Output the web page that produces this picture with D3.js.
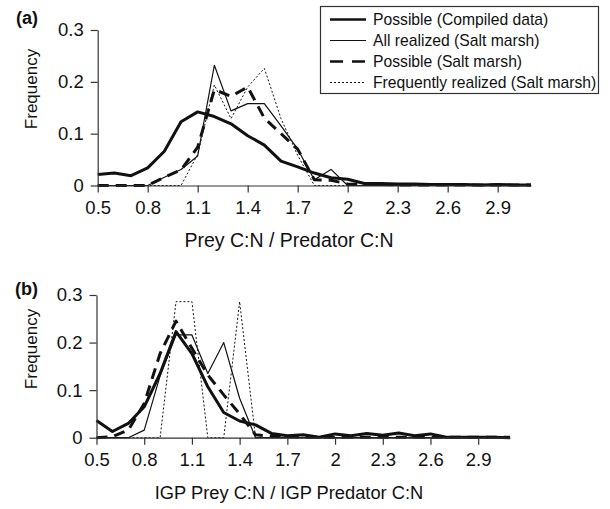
<!DOCTYPE html>
<html>
<head>
<meta charset="utf-8">
<script src="https://cdn.jsdelivr.net/npm/d3@7"></script>
<style>
  body { margin: 0; background: #fff; }
  text { font-family: "Liberation Sans", Arial, Helvetica, sans-serif; fill: #111; }
</style>
</head>
<body>
<svg id="chart" width="610" height="509"></svg>
<script>
// C:N ratio bins (same for both panels)
let ratioBins = [0.5, 0.6, 0.7, 0.8, 0.9, 1.0, 1.1, 1.2, 1.3, 1.4, 1.5, 1.6, 1.7, 1.8, 1.9,
                 2.0, 2.1, 2.2, 2.3, 2.4, 2.5, 2.6, 2.7, 2.8, 2.9, 3.0, 3.1];
let xTickValues = [0.5, 0.8, 1.1, 1.4, 1.7, 2.0, 2.3, 2.6, 2.9];
let yTickValues = [0, 0.1, 0.2, 0.3];

let seriesNames = ["Possible (Compiled data)", "All realized (Salt marsh)",
                   "Possible (Salt marsh)", "Frequently realized (Salt marsh)"];

// panel (a) prey / predator
let aCompiled = [0.021, 0.024, 0.019, 0.034, 0.066, 0.123, 0.142, 0.133, 0.119, 0.096, 0.078, 0.047, 0.036, 0.024, 0.015,
                 0.012, 0.004, 0.004, 0.003, 0.003, 0.002, 0.002, 0.002, 0.001, 0.002, 0.001, 0.001];
let aRealized = [0, 0, 0, 0, 0.016, 0.031, 0.057, 0.232, 0.144, 0.158, 0.158, 0.115, 0.07, 0.011, 0.031,
                 0, 0, 0, 0, 0, 0, 0, 0, 0, 0, 0, 0];
let aPossible = [0, 0, 0, 0, 0.016, 0.03, 0.074, 0.185, 0.172, 0.19, 0.13, 0.1, 0.07, 0.011, 0.01,
                 0.003, 0.002, 0.002, 0.001, 0.001, 0.001, 0.001, 0.001, 0.001, 0.001, 0.001, 0.001];
let aFrequent = [0, 0, 0, 0, 0, 0, 0.06, 0.194, 0.129, 0.19, 0.226, 0.129, 0.058, 0, 0,
                 0, 0, 0, 0, 0, 0, 0, 0, 0, 0, 0, 0];

// panel (b) IGP prey / IGP predator
let bCompiled = [0.036, 0.013, 0.03, 0.065, 0.135, 0.223, 0.177, 0.107, 0.053, 0.035, 0.027, 0.009, 0.004, 0.006, 0.001,
                 0.008, 0.004, 0.009, 0.005, 0.01, 0.004, 0.008, 0.001, 0.001, 0.001, 0.001, 0];
let bRealized = [0, 0, 0, 0.016, 0.13, 0.216, 0.216, 0.135, 0.2, 0.083, 0, 0, 0, 0, 0,
                 0, 0, 0, 0, 0, 0, 0, 0, 0, 0, 0, 0];
let bPossible = [0, 0.002, 0.016, 0.072, 0.177, 0.245, 0.188, 0.132, 0.09, 0.05, 0.006, 0.003, 0.002, 0.001, 0.001,
                 0.001, 0.001, 0.001, 0.001, 0.001, 0.001, 0.001, 0.001, 0.001, 0.001, 0.001, 0.001];
let bFrequent = [0, 0, 0, 0, 0, 0.286, 0.286, 0, 0, 0.286, 0, 0, 0, 0, 0,
                 0, 0, 0, 0, 0, 0, 0, 0, 0, 0, 0, 0];

let lineStyles = [
    {width: 3, dash: null},
    {width: 1.2, dash: null},
    {width: 3, dash: "11,7"},
    {width: 1, dash: "2,2"}
];

let svg = d3.select('#chart');

function drawPanel(cfg) {
    let xScale = d3.scaleLinear().domain([0.5, 3.1]).range([cfg.left, cfg.right]);
    let yScale = d3.scaleLinear().domain([0, 0.3]).range([cfg.bottom, cfg.top]);

    let g = svg.append("g");

    let line = d3.line()
        .x((d, i) => xScale(ratioBins[i]))
        .y(d => yScale(d));

    cfg.series.forEach(function(s, i) {
        g.append("path")
            .datum(s)
            .attr("d", line)
            .attr("fill", "none")
            .attr("stroke", "#111")
            .attr("stroke-width", lineStyles[i].width)
            .attr("stroke-dasharray", lineStyles[i].dash)
            .attr("stroke-linejoin", "round");
    });

    let xAxis = g.append("g")
        .attr("transform", "translate(0," + cfg.bottom + ")")
        .call(d3.axisBottom(xScale).tickValues(xTickValues).tickFormat(d3.format("~g"))
            .tickSize(7).tickSizeOuter(0).tickPadding(8));

    let yAxis = g.append("g")
        .attr("transform", "translate(" + cfg.left + ",0)")
        .call(d3.axisLeft(yScale).tickValues(yTickValues).tickFormat(d3.format("~g"))
            .tickSize(7).tickSizeOuter(0).tickPadding(7));

    [xAxis, yAxis].forEach(function(ax) {
        ax.select(".domain").attr("stroke", "#333").attr("stroke-width", 1.2);
        ax.selectAll(".tick line").attr("stroke", "#333").attr("stroke-width", 1.2);
        ax.selectAll(".tick text").attr("font-size", "18.5px").attr("fill", "#111")
            .style("font-family", "'Liberation Sans', Arial, sans-serif");
    });

    g.append("text")
        .attr("x", cfg.titleX)
        .attr("y", cfg.titleY)
        .attr("text-anchor", "middle")
        .attr("font-size", cfg.titleSize)
        .text(cfg.xTitle);

    g.append("text")
        .attr("transform", "translate(37," + cfg.freqY + ") rotate(-90)")
        .attr("text-anchor", "middle")
        .attr("font-size", "17px")
        .text("Frequency");

    g.append("text")
        .attr("x", cfg.tagX)
        .attr("y", cfg.tagY)
        .attr("font-size", "18px")
        .attr("font-weight", "bold")
        .text(cfg.tag);
}

drawPanel({
    left: 97.7, right: 531, top: 30, bottom: 185.5,
    series: [aCompiled, aRealized, aPossible, aFrequent],
    xTitle: "Prey C:N / Predator C:N", titleX: 289, titleY: 247, titleSize: "19.5px",
    freqY: 89, tag: "(a)", tagX: 16, tagY: 24
});

drawPanel({
    left: 96.5, right: 510, top: 295, bottom: 437.7,
    series: [bCompiled, bRealized, bPossible, bFrequent],
    xTitle: "IGP Prey C:N / IGP Predator C:N", titleX: 289, titleY: 499, titleSize: "18.3px",
    freqY: 349, tag: "(b)", tagX: 15, tagY: 295
});

// legend
let legend = svg.append("g");
legend.append("rect")
    .attr("x", 320.5).attr("y", 6.5)
    .attr("width", 278).attr("height", 87)
    .attr("fill", "#fff")
    .attr("stroke", "#333")
    .attr("stroke-width", 1.2);

seriesNames.forEach(function(name, i) {
    let cy = 19.5 + i * 21;
    legend.append("line")
        .attr("x1", 330).attr("x2", 366)
        .attr("y1", cy).attr("y2", cy)
        .attr("stroke", "#111")
        .attr("stroke-width", lineStyles[i].width === 3 ? 2.6 : lineStyles[i].width)
        .attr("stroke-dasharray", i === 2 ? "13,9" : lineStyles[i].dash);
    legend.append("text")
        .attr("x", 373).attr("y", cy)
        .attr("dy", "0.36em")
        .attr("font-size", "15.7px")
        .text(name);
});
</script>
</body>
</html>
